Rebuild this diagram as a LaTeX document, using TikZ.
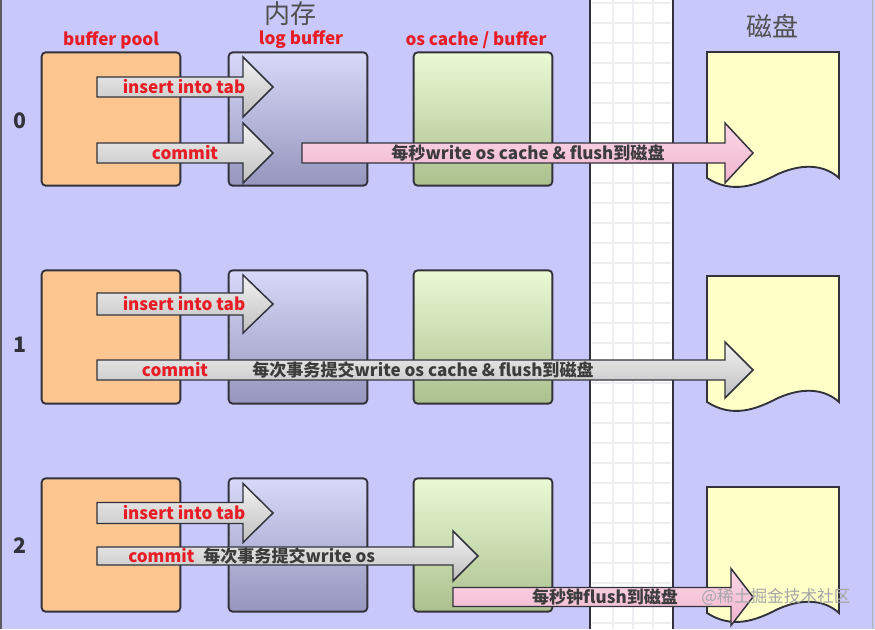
\documentclass[tikz,border=0pt]{standalone}
\usepackage{fontspec}
\setmainfont{Noto Sans CJK SC}
\begin{document}
\definecolor{bgc}{RGB}{201,200,250}
\definecolor{edge}{RGB}{50,50,60}
\definecolor{orangec}{RGB}{253,198,145}
\definecolor{lbtop}{RGB}{216,216,248}
\definecolor{lbbot}{RGB}{150,150,190}
\definecolor{octop}{RGB}{234,250,212}
\definecolor{ocbot}{RGB}{172,192,142}
\definecolor{diskc}{RGB}{255,255,200}
\definecolor{redc}{RGB}{232,28,36}
\definecolor{darktxt}{RGB}{60,60,60}
\definecolor{pinkc}{RGB}{250,200,220}
\definecolor{pinkd}{RGB}{240,180,205}
\definecolor{gridc}{RGB}{238,238,242}
\begin{tikzpicture}[x=0.75pt,y=-0.75pt,
  box/.style={draw=edge,line width=1.4pt,rounded corners=3pt,minimum width=104pt,minimum height=100pt,inner sep=0pt},
  bpbox/.style={box,fill=orangec},
  lbbox/.style={box,top color=lbtop,bottom color=lbbot},
  ocbox/.style={box,top color=octop,bottom color=ocbot},
  diskstyle/.style={draw=edge,line width=1.4pt,fill=diskc},
  grayarrow/.style={draw=edge,line width=1.1pt,top color=gray!10,bottom color=gray!50},
  pinkarrow/.style={draw=edge,line width=1.1pt,top color=pinkc!70!white,bottom color=pinkd},
  redlbl/.style={text=redc,font=\bfseries\fontsize{12.8}{14}\selectfont,inner sep=0pt},
  darklbl/.style={text=darktxt,font=\bfseries\fontsize{12.8}{14}\selectfont,inner sep=0pt},
  rownum/.style={text=edge,font=\bfseries\fontsize{16}{18}\selectfont,inner sep=0pt},
  bigtitle/.style={text=darktxt!90,font=\fontsize{19.5}{21}\selectfont,inner sep=0pt}
]
\useasboundingbox (0,0) rectangle (875,629);
\fill[bgc] (0,0) rectangle (875,629);
\draw[edge!80,line width=1.5pt] (1,0) -- (1,629);
\draw[gray!60,line width=0.6pt] (872,0) -- (872,629);
% white band with grid
\fill[white] (590,0) rectangle (673,629);
\foreach \gx in {613,633,653} \draw[gridc,line width=0.8pt] (\gx,0) -- (\gx,629);
\foreach \gy in {3,23,...,623} \draw[gridc,line width=0.8pt] (592,\gy) -- (671,\gy);
\draw[edge,line width=1.6pt] (590,0) -- (590,629);
\draw[edge,line width=1.6pt] (673,0) -- (673,629);

% titles
\node[bigtitle] (mem) at (290,14) {内存};
\node[bigtitle] (diskt) at (772,26) {磁盘};
\node[redlbl] (hbp) at (111,40) {buffer pool};
\node[redlbl] (hlb) at (301,40) {log buffer};
\node[redlbl] (hoc) at (476,40) {os cache / buffer};

\newcommand\fatarrow[7]{%
  \draw[#1] (#2,#5-#6) -- (#3,#5-#6) -- (#3,#5-#7) -- (#4,#5) -- (#3,#5+#7) -- (#3,#5+#6) -- (#2,#5+#6) -- cycle;}
\newcommand\diskpath[1]{%
  \draw[diskstyle] (707,#1) -- (839,#1) -- (839,#1+126)
    .. controls (826,#1+114) and (805,#1+110) .. (778,#1+122)
    .. controls (755,#1+134) and (732,#1+142) .. (707,#1+126) -- cycle;}

% ---------- row 0
\node[rownum] (r0) at (20,121) {0};
\node[bpbox] (bp0) at (111,119) {};
\node[lbbox] (lb0) at (298,119) {};
\node[ocbox] (oc0) at (483,119) {};
\diskpath{52}
\fatarrow{grayarrow}{97}{243}{273}{87}{10}{30}
\fatarrow{grayarrow}{97}{243}{273}{153}{10}{30}
\fatarrow{pinkarrow}{302}{725}{753}{153}{10}{30}
\node[redlbl] (i0) at (184,87) {insert into tab};
\node[redlbl] (c0) at (185,153) {commit};
\node[darklbl] (w0) at (528,153) {每秒write os cache \& flush到磁盘};

% ---------- row 1
\node[rownum] (r1) at (20,345) {1};
\node[bpbox] (bp1) at (111,337) {};
\node[lbbox] (lb1) at (298,337) {};
\node[ocbox] (oc1) at (483,337) {};
\diskpath{276}
\fatarrow{grayarrow}{97}{243}{273}{304}{11}{29}
\fatarrow{grayarrow}{97}{725}{753}{370}{10}{28}
\node[redlbl] (i1) at (184,304) {insert into tab};
\node[redlbl] (c1) at (175,370) {commit};
\node[darklbl,anchor=west] (w1) at (252,370) {每次事务提交write os cache \& flush到磁盘};

% ---------- row 2
\node[rownum] (r2) at (20,546) {2};
\node[bpbox] (bp2) at (111,545) {};
\node[lbbox] (lb2) at (298,545) {};
\node[ocbox] (oc2) at (483,545) {};
\diskpath{487}
\fatarrow{grayarrow}{97}{243}{273}{513}{10.5}{29.5}
\fatarrow{grayarrow}{97}{453}{478}{556}{9}{25}
\fatarrow{pinkarrow}{453}{731}{753}{597}{9.5}{28.5}
\node[redlbl] (i2) at (184,513) {insert into tab};
\node[redlbl,anchor=west] (c2) at (128,556) {commit};
\node[darklbl,anchor=west] (w2) at (203,556) {每次事务提交write os};
\node[darklbl] (f2) at (605,597) {每秒钟flush到磁盘};
\node[text=gray!70,font=\fontsize{12.5}{14}\selectfont,inner sep=0pt] (wm) at (776,597) {@稀土掘金技术社区};
\end{tikzpicture}
\end{document}
